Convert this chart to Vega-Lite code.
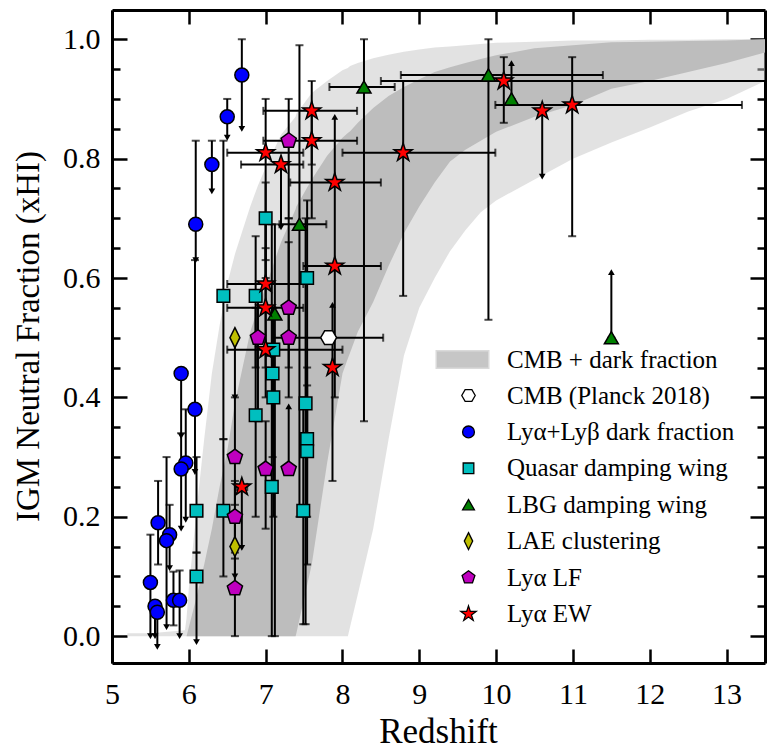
{
 "$schema": "https://vega.github.io/schema/vega-lite/v6.json",
 "width": 653,
 "height": 653,
 "autosize": {"type": "none"},
 "padding": {"left": 112, "top": 10, "right": 3, "bottom": 88},
 "background": "white",
 "config": {
  "view": {"stroke": null},
  "font": "Liberation Serif",
  "axis": {"labelFont": "Liberation Serif", "titleFont": "Liberation Serif", "labelColor": "black", "titleColor": "black", "domainColor": "black", "tickColor": "black", "domainWidth": 3, "tickWidth": 2.5, "grid": false, "titleFontWeight": "normal", "labelOverlap": false, "labelFlush": false, "labelBound": false}
 },
 "datasets": {
  "band": [
   {"z": 5.2, "a": 0.005, "b": 0, "c": 0, "d": 0},
   {"z": 5.5, "a": 0.005, "b": 0, "c": 0, "d": 0},
   {"z": 5.95, "a": 0.01, "b": 0, "c": 0, "d": 0},
   {"z": 5.97, "a": 0.03, "b": 0, "c": 0, "d": 0},
   {"z": 6.0, "a": 0.08, "b": 0, "c": 0.015, "d": 0},
   {"z": 6.1, "a": 0.21, "b": 0, "c": 0.065, "d": 0},
   {"z": 6.2, "a": 0.33, "b": 0, "c": 0.12, "d": 0},
   {"z": 6.3, "a": 0.44, "b": 0, "c": 0.18, "d": 0},
   {"z": 6.4, "a": 0.52, "b": 0, "c": 0.25, "d": 0},
   {"z": 6.5, "a": 0.59, "b": 0, "c": 0.31, "d": 0},
   {"z": 6.6, "a": 0.64, "b": 0, "c": 0.39, "d": 0},
   {"z": 6.7, "a": 0.68, "b": 0, "c": 0.45, "d": 0},
   {"z": 6.8, "a": 0.72, "b": 0, "c": 0.51, "d": 0},
   {"z": 6.9, "a": 0.755, "b": 0, "c": 0.55, "d": 0},
   {"z": 7.0, "a": 0.785, "b": 0, "c": 0.585, "d": 0},
   {"z": 7.2, "a": 0.84, "b": 0, "c": 0.66, "d": 0},
   {"z": 7.39, "a": 0.87, "b": 0, "c": 0.715, "d": 0},
   {"z": 7.4, "a": 0.875, "b": 0, "c": 0.72, "d": 0.005},
   {"z": 7.6, "a": 0.91, "b": 0, "c": 0.765, "d": 0.12},
   {"z": 7.8, "a": 0.93, "b": 0, "c": 0.805, "d": 0.29},
   {"z": 8.0, "a": 0.948, "b": 0, "c": 0.835, "d": 0.44},
   {"z": 8.07, "a": 0.952, "b": 0, "c": 0.843, "d": 0.465},
   {"z": 8.1, "a": 0.955, "b": 0.016, "c": 0.846, "d": 0.475},
   {"z": 8.2, "a": 0.96, "b": 0.07, "c": 0.86, "d": 0.51},
   {"z": 8.4, "a": 0.968, "b": 0.18, "c": 0.885, "d": 0.56},
   {"z": 8.6, "a": 0.974, "b": 0.33, "c": 0.905, "d": 0.62},
   {"z": 8.8, "a": 0.979, "b": 0.47, "c": 0.92, "d": 0.675},
   {"z": 9.0, "a": 0.983, "b": 0.55, "c": 0.933, "d": 0.72},
   {"z": 9.2, "a": 0.986, "b": 0.6, "c": 0.945, "d": 0.76},
   {"z": 9.4, "a": 0.988, "b": 0.645, "c": 0.953, "d": 0.795},
   {"z": 9.6, "a": 0.99, "b": 0.68, "c": 0.96, "d": 0.815},
   {"z": 9.8, "a": 0.992, "b": 0.71, "c": 0.967, "d": 0.83},
   {"z": 10.0, "a": 0.994, "b": 0.73, "c": 0.973, "d": 0.845},
   {"z": 10.5, "a": 0.996, "b": 0.765, "c": 0.985, "d": 0.87},
   {"z": 11.0, "a": 0.998, "b": 0.8, "c": 0.99, "d": 0.89},
   {"z": 11.5, "a": 0.998, "b": 0.827, "c": 0.995, "d": 0.917},
   {"z": 12.0, "a": 0.999, "b": 0.852, "c": 0.996, "d": 0.93},
   {"z": 12.5, "a": 0.999, "b": 0.879, "c": 0.997, "d": 0.945},
   {"z": 13.0, "a": 1.0, "b": 0.9, "c": 0.998, "d": 0.96},
   {"z": 13.5, "a": 1.0, "b": 0.93, "c": 1.0, "d": 0.978}
  ],
  "pts": [
   {"g": "CMB (Planck 2018)", "z": 7.82, "v": 0.5, "zl": 7.11, "zh": 8.53},
   {"g": "Lyα+Lyβ dark fraction", "z": 6.69, "v": 0.94, "vl": 0.85, "vh": 1.0, "dn": 1},
   {"g": "Lyα+Lyβ dark fraction", "z": 6.5, "v": 0.87, "vl": 0.835, "vh": 0.9, "dn": 1},
   {"g": "Lyα+Lyβ dark fraction", "z": 6.3, "v": 0.79, "vl": 0.745, "vh": 0.83, "dn": 1},
   {"g": "Lyα+Lyβ dark fraction", "z": 6.09, "v": 0.69, "vl": 0.63, "vh": 0.83, "dn": 1},
   {"g": "Lyα+Lyβ dark fraction", "z": 6.08, "v": 0.38, "vl": 0.275, "vh": 0.63, "dn": 1},
   {"g": "Lyα+Lyβ dark fraction", "z": 5.9, "v": 0.44, "vl": 0.335, "vh": 0.44, "dn": 1},
   {"g": "Lyα+Lyβ dark fraction", "z": 5.96, "v": 0.29, "vl": 0.195, "vh": 0.38, "dn": 1},
   {"g": "Lyα+Lyβ dark fraction", "z": 5.9, "v": 0.28, "vl": 0.18, "vh": 0.34, "dn": 1},
   {"g": "Lyα+Lyβ dark fraction", "z": 5.6, "v": 0.19, "vl": 0.12, "vh": 0.26},
   {"g": "Lyα+Lyβ dark fraction", "z": 5.75, "v": 0.17, "vl": 0.114, "vh": 0.22, "dn": 1},
   {"g": "Lyα+Lyβ dark fraction", "z": 5.71, "v": 0.16, "vl": 0.015, "vh": 0.3, "dn": 1},
   {"g": "Lyα+Lyβ dark fraction", "z": 5.5, "v": 0.09, "vl": 0.0, "vh": 0.17, "dn": 1},
   {"g": "Lyα+Lyβ dark fraction", "z": 5.56, "v": 0.05, "vl": 0.0, "vh": 0.05, "dn": 1},
   {"g": "Lyα+Lyβ dark fraction", "z": 5.59, "v": 0.04, "vl": -0.018, "vh": 0.04, "dn": 1},
   {"g": "Lyα+Lyβ dark fraction", "z": 5.8, "v": 0.06, "vl": 0.018, "vh": 0.108},
   {"g": "Lyα+Lyβ dark fraction", "z": 5.88, "v": 0.06, "vl": 0.0, "vh": 0.11, "dn": 1},
   {"g": "Quasar damping wing", "z": 6.1, "v": 0.21, "vl": 0.14, "vh": 0.3},
   {"g": "Quasar damping wing", "z": 6.1, "v": 0.1, "vl": -0.01, "vh": 0.14, "dn": 1},
   {"g": "Quasar damping wing", "z": 6.45, "v": 0.57, "vl": 0.33, "vh": 0.83},
   {"g": "Quasar damping wing", "z": 6.45, "v": 0.21, "vl": 0.1, "vh": 0.33},
   {"g": "Quasar damping wing", "z": 6.87, "v": 0.57, "vl": 0.45, "vh": 0.67},
   {"g": "Quasar damping wing", "z": 7.0, "v": 0.7, "vl": 0.63, "vh": 0.76},
   {"g": "Quasar damping wing", "z": 7.54, "v": 0.6, "vl": 0.33, "vh": 0.73},
   {"g": "Quasar damping wing", "z": 7.1, "v": 0.48, "vl": 0.4, "vh": 0.55},
   {"g": "Quasar damping wing", "z": 7.09, "v": 0.44, "vl": 0.3, "vh": 0.55},
   {"g": "Quasar damping wing", "z": 7.1, "v": 0.4, "vl": 0.2, "vh": 0.48},
   {"g": "Quasar damping wing", "z": 7.08, "v": 0.25, "vl": 0.0, "vh": 0.69},
   {"g": "Quasar damping wing", "z": 6.87, "v": 0.37, "vl": 0.2, "vh": 0.55},
   {"g": "Quasar damping wing", "z": 7.52, "v": 0.39, "vl": 0.02, "vh": 0.7},
   {"g": "Quasar damping wing", "z": 7.54, "v": 0.33, "vl": 0.12, "vh": 0.45},
   {"g": "Quasar damping wing", "z": 7.54, "v": 0.31, "vl": 0.2, "vh": 0.42},
   {"g": "Quasar damping wing", "z": 7.49, "v": 0.21, "vl": 0.02, "vh": 0.4},
   {"g": "LBG damping wing", "z": 8.28, "v": 0.92, "zl": 7.83, "zh": 8.68, "vl": 0.36, "vh": 1.0},
   {"g": "LBG damping wing", "z": 7.44, "v": 0.69, "zl": 7.18, "zh": 7.79, "vl": 0.2, "vh": 0.99},
   {"g": "LBG damping wing", "z": 7.12, "v": 0.54, "vl": 0.0, "vh": 0.69},
   {"g": "LBG damping wing", "z": 9.9, "v": 0.94, "zl": 8.76, "zh": 11.39, "vl": 0.53, "vh": 1.0},
   {"g": "LBG damping wing", "z": 10.2, "v": 0.9, "vl": 0.9, "vh": 0.96, "up": 1},
   {"g": "LBG damping wing", "z": 11.5, "v": 0.5, "vl": 0.5, "vh": 0.61, "up": 1},
   {"g": "LAE clustering", "z": 6.6, "v": 0.5, "vl": 0.4, "vh": 0.5, "dn": 1},
   {"g": "LAE clustering", "z": 6.6, "v": 0.15, "vl": 0.1, "vh": 0.2, "dn": 1},
   {"g": "Lyα LF", "z": 7.3, "v": 0.83, "vl": 0.7, "vh": 0.9},
   {"g": "Lyα LF", "z": 6.9, "v": 0.5, "vl": 0.36, "vh": 0.57},
   {"g": "Lyα LF", "z": 7.3, "v": 0.5, "vl": 0.4, "vh": 0.66},
   {"g": "Lyα LF", "z": 7.3, "v": 0.55, "vl": 0.45, "vh": 0.7},
   {"g": "Lyα LF", "z": 6.6, "v": 0.3, "vl": 0.22, "vh": 0.4},
   {"g": "Lyα LF", "z": 7.0, "v": 0.28, "vl": 0.18, "vh": 0.36},
   {"g": "Lyα LF", "z": 7.3, "v": 0.28, "vl": 0.28, "vh": 0.385, "up": 1},
   {"g": "Lyα LF", "z": 6.6, "v": 0.2, "vl": 0.14, "vh": 0.26},
   {"g": "Lyα LF", "z": 6.6, "v": 0.08, "vl": 0.0, "vh": 0.13},
   {"g": "Lyα EW", "z": 7.6, "v": 0.88, "zl": 6.97, "zh": 8.19, "vl": 0.79, "vh": 0.93},
   {"g": "Lyα EW", "z": 7.6, "v": 0.83, "zl": 6.97, "zh": 8.19, "vl": 0.7, "vh": 0.88},
   {"g": "Lyα EW", "z": 7.0, "v": 0.81, "zl": 6.5, "zh": 7.49, "vl": 0.6, "vh": 0.9},
   {"g": "Lyα EW", "z": 7.2, "v": 0.79, "zl": 6.68, "zh": 7.49, "vl": 0.685, "vh": 0.79, "dn": 1},
   {"g": "Lyα EW", "z": 7.9, "v": 0.76, "zl": 7.32, "zh": 8.5, "vl": 0.76, "vh": 0.87, "up": 1},
   {"g": "Lyα EW", "z": 7.9, "v": 0.62, "zl": 7.49, "zh": 8.5, "vl": 0.4, "vh": 0.76},
   {"g": "Lyα EW", "z": 8.79, "v": 0.81, "zl": 8.0, "zh": 9.99, "vl": 0.57, "vh": 0.93},
   {"g": "Lyα EW", "z": 7.0, "v": 0.59, "zl": 6.5, "zh": 7.49, "vl": 0.45, "vh": 0.7},
   {"g": "Lyα EW", "z": 7.0, "v": 0.55, "zl": 6.5, "zh": 7.49, "vl": 0.4, "vh": 0.65},
   {"g": "Lyα EW", "z": 7.0, "v": 0.48, "zl": 6.5, "zh": 8.0},
   {"g": "Lyα EW", "z": 7.87, "v": 0.45, "vl": 0.26, "vh": 0.555, "up": 1},
   {"g": "Lyα EW", "z": 6.69, "v": 0.25, "zl": 6.62, "zh": 6.76, "vl": 0.148, "vh": 0.25, "dn": 1},
   {"g": "Lyα EW", "z": 10.1, "v": 0.93, "zl": 8.5, "zh": 13.7, "vl": 0.86, "vh": 0.97},
   {"g": "Lyα EW", "z": 10.6, "v": 0.88, "vl": 0.77, "vh": 0.88, "dn": 1},
   {"g": "Lyα EW", "z": 10.99, "v": 0.89, "zl": 9.99, "zh": 13.2, "vl": 0.67, "vh": 0.97}
  ]
 },
 "layer": [
  {
   "data": {"name": "band"},
   "mark": {"type": "area", "opacity": 0.5, "clip": true},
   "encoding": {
    "x": {"field": "z", "type": "quantitative", "scale": {"domain": [5, 13.5], "nice": false, "zero": false},
     "axis": {"orient": "bottom", "values": [5, 6, 7, 8, 9, 10, 11, 12, 13], "tickSize": -14, "labelFontSize": 30, "labelPadding": 30, "title": "Redshift", "titleFontSize": 35, "titleX": 326, "titleY": 68, "titleBaseline": "middle", "titleAlign": "center"}},
    "y": {"field": "a", "type": "quantitative", "scale": {"domain": [-0.045, 1.049], "nice": false, "zero": false},
     "axis": {"orient": "left", "values": [0, 0.2, 0.4, 0.6, 0.8, 1.0], "format": ".1f", "tickSize": -15,
      "labelFontSize": 30, "labelPadding": 27, "title": "IGM Neutral Fraction (xHI)", "titleFontSize": 33, "titleX": -84, "titleY": 326, "titleAngle": -90, "titleBaseline": "middle", "titleAlign": "center"}},
    "y2": {"field": "b"},
    "color": {"datum": "CMB + dark fraction", "scale": {"range": ["#c6c6c6"]},
     "legend": {"title": null, "orient": "none", "legendX": 332, "legendY": 331, "symbolType": "M-1.5,-0.5L1.5,-0.5L1.5,0.5L-1.5,0.5Z", "symbolSize": 1225, "symbolOpacity": 1, "symbolStrokeColor": "#dadada", "symbolStrokeWidth": 1.5, "labelFont": "Liberation Serif", "labelFontSize": 25, "labelColor": "black", "labelOffset": 26, "labelLimit": 0, "padding": 0}}
   }
  },
  {
   "data": {"name": "band"},
   "mark": {"type": "area", "color": "#bdbdbd", "clip": true},
   "encoding": {
    "x": {"field": "z", "type": "quantitative", "scale": {"domain": [5, 13.5], "nice": false, "zero": false},
     "axis": {"orient": "top", "values": [5, 6, 7, 8, 9, 10, 11, 12, 13], "tickSize": -14, "labels": false, "title": null}},
    "y": {"field": "c", "type": "quantitative", "scale": {"domain": [-0.045, 1.049], "nice": false, "zero": false},
     "axis": {"orient": "right", "values": [0, 0.2, 0.4, 0.6, 0.8, 1.0], "tickSize": -15, "labels": false, "title": null}},
    "y2": {"field": "d"}
   }
  },
  {
   "data": {"name": "pts"},
   "transform": [{"filter": "isValid(datum.vl)"}],
   "mark": {"type": "rule", "color": "black", "strokeWidth": 2, "clip": true},
   "encoding": {
    "x": {"field": "z", "type": "quantitative", "scale": {"domain": [5, 13.5], "nice": false, "zero": false}, "axis": null},
    "y": {"field": "vl", "type": "quantitative", "scale": {"domain": [-0.045, 1.049], "nice": false, "zero": false},
     "axis": {"orient": "left", "values": [0.05, 0.1, 0.15, 0.25, 0.3, 0.35, 0.45, 0.5, 0.55, 0.65, 0.7, 0.75, 0.85, 0.9, 0.95], "tickSize": -8, "labels": false, "domain": false, "title": null}},
    "y2": {"field": "vh"}
   }
  },
  {
   "data": {"name": "pts"},
   "transform": [{"filter": "isValid(datum.zl)"}],
   "mark": {"type": "rule", "color": "black", "strokeWidth": 2, "clip": true},
   "encoding": {
    "x": {"field": "zl", "type": "quantitative", "scale": {"domain": [5, 13.5], "nice": false, "zero": false}, "axis": null},
    "x2": {"field": "zh"},
    "y": {"field": "v", "type": "quantitative", "scale": {"domain": [-0.045, 1.049], "nice": false, "zero": false},
     "axis": {"orient": "right", "values": [0.05, 0.1, 0.15, 0.25, 0.3, 0.35, 0.45, 0.5, 0.55, 0.65, 0.7, 0.75, 0.85, 0.9, 0.95], "tickSize": -8, "labels": false, "domain": false, "title": null}}
   }
  },
  {
   "data": {"name": "pts"},
   "transform": [{"filter": "isValid(datum.vl) && datum.dn != 1"}],
   "mark": {"type": "tick", "orient": "horizontal", "color": "black", "size": 8, "thickness": 2, "clip": true},
   "encoding": {
    "x": {"field": "z", "type": "quantitative", "scale": {"domain": [5, 13.5], "nice": false, "zero": false}, "axis": null},
    "y": {"field": "vl", "type": "quantitative", "scale": {"domain": [-0.045, 1.049], "nice": false, "zero": false}, "axis": null}
   }
  },
  {
   "data": {"name": "pts"},
   "transform": [{"filter": "isValid(datum.vh) && datum.up != 1"}],
   "mark": {"type": "tick", "orient": "horizontal", "color": "black", "size": 8, "thickness": 2, "clip": true},
   "encoding": {
    "x": {"field": "z", "type": "quantitative", "scale": {"domain": [5, 13.5], "nice": false, "zero": false}, "axis": null},
    "y": {"field": "vh", "type": "quantitative", "scale": {"domain": [-0.045, 1.049], "nice": false, "zero": false}, "axis": null}
   }
  },
  {
   "data": {"name": "pts"},
   "transform": [{"filter": "isValid(datum.zl)"}],
   "mark": {"type": "tick", "orient": "vertical", "color": "black", "size": 8, "thickness": 2, "clip": true},
   "encoding": {
    "x": {"field": "zl", "type": "quantitative", "scale": {"domain": [5, 13.5], "nice": false, "zero": false}, "axis": null},
    "y": {"field": "v", "type": "quantitative", "scale": {"domain": [-0.045, 1.049], "nice": false, "zero": false}, "axis": null}
   }
  },
  {
   "data": {"name": "pts"},
   "transform": [{"filter": "isValid(datum.zh)"}],
   "mark": {"type": "tick", "orient": "vertical", "color": "black", "size": 8, "thickness": 2, "clip": true},
   "encoding": {
    "x": {"field": "zh", "type": "quantitative", "scale": {"domain": [5, 13.5], "nice": false, "zero": false}, "axis": null},
    "y": {"field": "v", "type": "quantitative", "scale": {"domain": [-0.045, 1.049], "nice": false, "zero": false}, "axis": null}
   }
  },
  {
   "data": {"name": "pts"},
   "transform": [{"filter": "datum.dn == 1"}],
   "mark": {"type": "point", "shape": "triangle-down", "filled": true, "color": "black", "size": 45, "opacity": 1, "clip": true},
   "encoding": {
    "x": {"field": "z", "type": "quantitative", "scale": {"domain": [5, 13.5], "nice": false, "zero": false}, "axis": null},
    "y": {"field": "vl", "type": "quantitative", "scale": {"domain": [-0.045, 1.049], "nice": false, "zero": false}, "axis": null}
   }
  },
  {
   "data": {"name": "pts"},
   "transform": [{"filter": "datum.up == 1"}],
   "mark": {"type": "point", "shape": "triangle-up", "filled": true, "color": "black", "size": 45, "opacity": 1, "clip": true},
   "encoding": {
    "x": {"field": "z", "type": "quantitative", "scale": {"domain": [5, 13.5], "nice": false, "zero": false}, "axis": null},
    "y": {"field": "vh", "type": "quantitative", "scale": {"domain": [-0.045, 1.049], "nice": false, "zero": false}, "axis": null}
   }
  },
  {
   "data": {"name": "pts"},
   "mark": {"type": "point", "filled": true, "strokeWidth": 1.5, "opacity": 1, "size": 196, "clip": true},
   "encoding": {
    "x": {"field": "z", "type": "quantitative", "scale": {"domain": [5, 13.5], "nice": false, "zero": false}, "axis": null},
    "y": {"field": "v", "type": "quantitative", "scale": {"domain": [-0.045, 1.049], "nice": false, "zero": false}, "axis": null},
    "shape": {"field": "g", "type": "nominal",
     "scale": {"domain": ["CMB (Planck 2018)", "Lyα+Lyβ dark fraction", "Quasar damping wing", "LBG damping wing", "LAE clustering", "Lyα LF", "Lyα EW"],
      "range": ["M1.14,0L0.57,0.99L-0.57,0.99L-1.14,0L-0.57,-0.99L0.57,-0.99Z", "circle", "M-0.9,-0.9L0.9,-0.9L0.9,0.9L-0.9,0.9Z", "triangle-up", "M0,-1.43L0.71,0L0,1.43L-0.71,0Z", "M0,-1.14L1.085,-0.352L0.67,0.922L-0.67,0.922L-1.085,-0.352Z", "M0,-1.36L0.31,-0.43L1.293,-0.42L0.5,0.165L0.8,1.1L0,0.53L-0.8,1.1L-0.5,0.165L-1.293,-0.42L-0.31,-0.43Z"]},
     "legend": {"title": null, "orient": "none", "legendX": 344, "legendY": 373, "symbolSize": 140, "symbolStrokeWidth": 1.3, "labelFont": "Liberation Serif", "labelFontSize": 25, "labelColor": "black", "labelOffset": 26, "labelLimit": 0, "rowPadding": 10.4, "padding": 0}},
    "fill": {"field": "g", "type": "nominal",
     "scale": {"domain": ["CMB (Planck 2018)", "Lyα+Lyβ dark fraction", "Quasar damping wing", "LBG damping wing", "LAE clustering", "Lyα LF", "Lyα EW"],
      "range": ["#ffffff", "#0000ff", "#00bfbf", "#008000", "#bfbf00", "#bf00bf", "#ff0000"]},
     "legend": {"title": null, "orient": "none", "legendX": 344, "legendY": 373, "symbolSize": 140, "symbolStrokeWidth": 1.3, "labelFont": "Liberation Serif", "labelFontSize": 25, "labelColor": "black", "labelOffset": 26, "labelLimit": 0, "rowPadding": 10.4, "padding": 0}},
    "stroke": {"field": "g", "type": "nominal",
     "scale": {"domain": ["CMB (Planck 2018)", "Lyα+Lyβ dark fraction", "Quasar damping wing", "LBG damping wing", "LAE clustering", "Lyα LF", "Lyα EW"],
      "range": ["#000000", "#000000", "#000000", "#000000", "#000000", "#000000", "#000000"]},
     "legend": {"title": null, "orient": "none", "legendX": 344, "legendY": 373, "symbolSize": 140, "symbolStrokeWidth": 1.3, "labelFont": "Liberation Serif", "labelFontSize": 25, "labelColor": "black", "labelOffset": 26, "labelLimit": 0, "rowPadding": 10.4, "padding": 0}}
   }
  }
 ],
 "resolve": {"scale": {"x": "independent", "y": "independent"}}
}
